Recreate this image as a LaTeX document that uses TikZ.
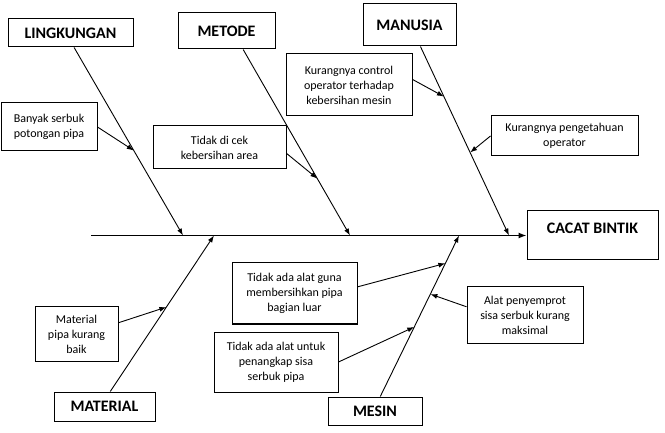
\documentclass[tikz,border=0pt]{standalone}
\usepackage{fontspec}
\setmainfont{Carlito}
\usetikzlibrary{calc,arrows.meta}
\tikzstyle{catBox}=[shape = rectangle, draw, line width = 1pt, inner sep = 0pt, font = \fontsize{16}{19}\selectfont\bfseries]
\tikzstyle{causeBox}=[shape = rectangle, draw, line width = 1pt, inner sep = 0pt, align = center, font = \fontsize{12}{15}\selectfont]

\begin{document}
\begin{tikzpicture}[x = 1pt, y = -1pt]
\tikzstyle{bone}=[line width = 0.9pt, -{Latex[length = 7pt, width = 5pt]}]
\tikzstyle{spine}=[line width = 1.2pt, -{Latex[length = 8pt, width = 6pt]}]
\useasboundingbox (0,0) rectangle (665,433);
\node[catBox, minimum width = 131pt, text height = 23pt, text depth = 26pt] (b0) at (592.5,235.5) {CACAT BINTIK};
\node[catBox, minimum width = 125pt, minimum height = 28pt] (b1) at (70.5,33) {LINGKUNGAN};
\node[catBox, minimum width = 97pt, minimum height = 36pt] (b2) at (226.5,31) {METODE};
\node[catBox, minimum width = 93pt, minimum height = 42pt] (b3) at (409.5,25) {MANUSIA};
\node[catBox, minimum width = 101pt, minimum height = 29pt] (b4) at (104.5,406.5) {MATERIAL};
\node[catBox, minimum width = 94pt, minimum height = 28pt] (b5) at (375,411) {MESIN};
\node[causeBox, minimum width = 96pt, minimum height = 48pt] (c0) at (49,127) {Banyak serbuk\\potongan pipa};
\node[causeBox, minimum width = 133pt, minimum height = 43pt] (c1) at (219.5,147.5) {Tidak di cek\\kebersihan area};
\node[causeBox, minimum width = 126pt, minimum height = 62pt] (c2) at (349,85) {Kurangnya control\\operator terhadap\\kebersihan mesin};
\node[causeBox, minimum width = 147pt, minimum height = 40pt] (c3) at (564.5,136) {Kurangnya pengetahuan\\operator};
\node[causeBox, minimum width = 83pt, minimum height = 54pt] (c4) at (76.5,334) {Material\\pipa kurang\\baik};
\node[causeBox, minimum width = 125pt, minimum height = 61pt] (c5) at (294.5,293.5) {Tidak ada alat guna\\membersihkan pipa\\bagian luar};
\node[causeBox, minimum width = 124pt, minimum height = 60pt] (c6) at (276,362) {Tidak ada alat untuk\\penangkap sisa\\serbuk pipa};
\node[causeBox, minimum width = 116pt, minimum height = 56pt] (c7) at (525,315) {Alat penyemprot\\sisa serbuk kurang\\maksimal};
\coordinate (s0) at (91,235.5);
\coordinate (p1) at (183,235.5);
\coordinate (p2) at (350,235.5);
\coordinate (p3) at (509,235.5);
\coordinate (p4) at (214,235.5);
\coordinate (p5) at (459,235.5);
\coordinate (q0) at ($(b1.-76)!0.548!(p1)$);
\coordinate (q1) at ($(b2.-48)!0.694!(p2)$);
\coordinate (q2) at ($(b3.-63)!0.265!(p3)$);
\coordinate (q3) at ($(b3.-63)!0.561!(p3)$);
\coordinate (q4) at ($(b4.69)!0.541!(p4)$);
\coordinate (q5) at ($(b5.70)!0.827!(p5)$);
\coordinate (q6) at ($(b5.70)!0.432!(p5)$);
\coordinate (q7) at ($(b5.70)!0.636!(p5)$);
\draw[spine] (s0) -- (b0);
\draw[bone] (b1.-76) -- (p1);
\draw[bone] (b2.-48) -- (p2);
\draw[bone] (b3.-63) -- (p3);
\draw[bone] (b4.69) -- (p4);
\draw[bone] (b5.70) -- (p5);
\draw[bone] (c0.east) -- (q0);
\draw[bone] (c1.-5) -- (q1);
\draw[bone] (c2.5) -- (q2);
\draw[bone] (c3.west) -- (q3);
\draw[bone] (c4.15) -- (q4);
\draw[bone] (c5.6) -- (q5);
\draw[bone] (c6.east) -- (q6);
\draw[bone] (c7.172) -- (q7);
\end{tikzpicture}
\end{document}
